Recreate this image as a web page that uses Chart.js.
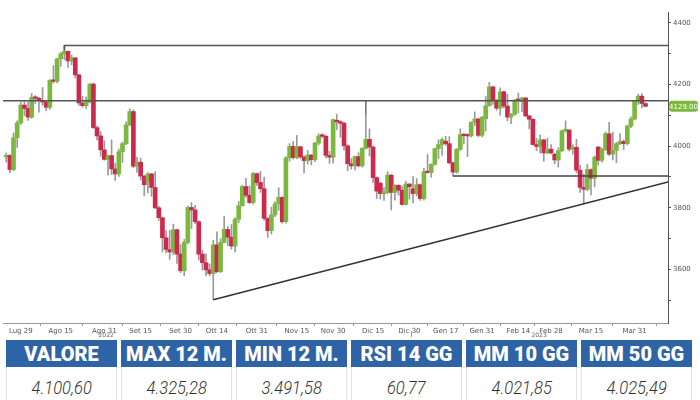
<!DOCTYPE html>
<html>
<head>
<meta charset="utf-8">
<script src="https://cdn.jsdelivr.net/npm/chart.js@4.4.0/dist/chart.umd.min.js"></script>
<style>
html, body { margin:0; padding:0; background:#fff; }
#wrap { width:700px; height:338px; }
#tab { display:flex; margin:2px 0 0 6px; }
.col { width:111px; margin-right:4px; }
.hd { background:#2e63a6; color:#fff; font:900 20px Roboto, sans-serif; height:27px; line-height:28px; text-align:center; white-space:nowrap; }
.vl { box-sizing:border-box; height:33px; padding-top:9px; text-align:center; color:#333; border-left:1px solid #e2e2e2; border-right:1px solid #e2e2e2; white-space:nowrap; }
.vl span { display:inline-block; font:italic 300 19px Roboto, sans-serif; transform:scaleX(0.87); }
</style>
</head>
<body>
<div id="wrap"><canvas id="chart_main" width="700" height="338"></canvas></div>
<div id="tab"></div>
<script>
"use strict";

// giorni di borsa, indice 0 = Lug 29 (prima candela = Lug 25)
const startIdx = -4;
const openV  = [3965,3970,3924,4027,4075,4133,4122,4094,4158,4155,4148,4143,4126,4213,4210,4283,4299,4307,4276,4286,4231,4140,4131,4143,4201,4060,4033,3988,3957,3969,3926,3910,3982,4008,4069,4112,3935,3948,3903,3883,3910,3866,3800,3768,3703,3665,3657,3729,3650,3596,3688,3801,3793,3755,3650,3622,3599,3587,3680,3593,3688,3730,3705,3676,3763,3807,3869,3841,3817,3911,3882,3862,3766,3726,3777,3813,3834,3755,3962,3999,3963,3998,3965,3953,3971,3956,4010,4033,4032,3970,3964,4082,4079,4074,4001,3943,3936,3966,3936,3993,4022,3997,3898,3880,3846,3850,3906,3850,3873,3857,3811,3877,3862,3846,3875,3830,3917,3914,3941,3992,4005,4016,4008,3946,3916,3990,4037,4034,4033,4077,4088,4035,4089,4131,4192,4149,4123,4176,4130,4094,4103,4149,4144,4156,4098,4087,4005,3999,4020,3978,3990,3974,3955,3985,4050,4052,3990,3996,3922,3866,3860,3924,3896,3997,3954,3989,4040,3974,3986,4008,4015,4008,4065,4088,4146,4162,4138];
const highV  = [3978,3972,4043,4082,4143,4148,4143,4171,4164,4158,4190,4146,4216,4261,4285,4304,4326,4309,4295,4288,4233,4162,4159,4203,4205,4065,4047,4017,3972,4020,3945,3990,4013,4079,4121,4118,3964,3961,3905,3914,3912,3917,3805,3770,3726,3727,3747,3731,3681,3698,3806,3817,3808,3758,3662,3651,3618,3695,3722,3700,3773,3739,3746,3768,3821,3873,3896,3870,3915,3913,3918,3900,3768,3802,3820,3865,3836,3966,4008,4015,4035,4000,3968,3986,3973,4012,4040,4040,4034,3983,4088,4103,4083,4078,4004,3960,3968,3979,3995,4103,4056,4000,3900,3883,3866,3917,3908,3875,3875,3870,3886,3879,3901,3895,3877,3928,3973,3943,3994,4020,4026,4032,4031,3948,3992,4056,4041,4040,4079,4111,4090,4096,4161,4207,4195,4151,4189,4178,4168,4106,4151,4172,4158,4158,4100,4089,4025,4036,4022,4026,4005,3976,3995,4052,4082,4054,4004,4022,3938,3909,3941,3926,3969,3999,3994,4046,4077,4045,4012,4041,4020,4068,4095,4148,4168,4170,4141];
const lowV   = [3948,3914,3920,3996,4070,4099,4083,4090,4138,4110,4132,4115,4120,4204,4205,4259,4280,4255,4264,4221,4132,4126,4122,4140,4057,4019,3967,3954,3906,3908,3889,3902,3947,4005,4066,3930,3915,3890,3839,3848,3837,3797,3759,3657,3655,3633,3648,3620,3590,3580,3684,3733,3749,3631,3598,3579,3580,3502,3590,3590,3686,3677,3666,3657,3752,3805,3834,3814,3812,3873,3850,3760,3704,3715,3771,3792,3750,3750,3951,3958,3959,3960,3913,3942,3939,3950,4004,4027,3962,3944,3945,4053,4029,3987,3920,3925,3923,3933,3932,3990,3968,3882,3830,3828,3824,3846,3793,3825,3841,3809,3809,3828,3816,3838,3824,3825,3912,3899,3938,3960,3970,4002,3942,3903,3912,3985,4007,3966,4030,4066,4030,4030,4049,4129,4135,4116,4100,4124,4082,4073,4100,4107,4112,4095,4056,4003,3985,3977,3951,3975,3975,3943,3932,3982,4045,3984,3974,3913,3850,3813,3855,3842,3868,3938,3948,3985,3970,3955,3946,4005,3989,4004,4060,4085,4135,4124,4127];
const closeV = [3970,3924,4027,4075,4133,4122,4094,4158,4155,4148,4143,4126,4213,4210,4283,4299,4307,4276,4286,4231,4140,4131,4143,4201,4060,4033,3988,3957,3969,3926,3910,3982,4008,4069,4112,3935,3948,3903,3875,3910,3866,3800,3768,3703,3665,3657,3729,3650,3596,3688,3801,3793,3755,3650,3622,3599,3587,3680,3593,3688,3730,3705,3676,3763,3807,3869,3841,3817,3911,3882,3862,3766,3726,3777,3813,3834,3755,3962,3999,3963,3998,3965,3953,3971,3956,4010,4033,4032,3970,3964,4086,4079,4074,4001,3943,3936,3966,3936,3993,4022,3997,3898,3854,3846,3850,3906,3850,3873,3857,3811,3877,3868,3846,3875,3830,3917,3914,3941,3992,4005,4021,4008,3946,3916,3990,4037,4034,4033,4077,4088,4035,4094,4131,4192,4149,4123,4176,4130,4094,4103,4149,4148,4156,4098,4087,4005,3999,4020,3978,3990,3978,3955,3985,4050,4052,3990,3996,3922,3866,3860,3924,3896,3964,3954,3989,4040,3974,3986,4008,4015,4008,4065,4088,4146,4162,4138,4129];

// etichette asse X
const tickIdx  = [0, 11, 23, 33, 44, 54, 65, 76, 86, 97, 107, 117, 127, 137, 146, 157, 169];
const tickText = ['Lug 29','Ago 15','Ago 31','Set 15','Set 30','Ott 14','Ott 31','Nov 15','Nov 30','Dic 15','Dic 30','Gen 17','Gen 31','Feb 14','Feb 28','Mar 15','Mar 31'];
const yearIdx  = [23.5, 142.7];
const yearText = ['2022', '2023'];
const yTicks   = [3500, 3600, 3700, 3800, 3900, 4000, 4100, 4200, 4300, 4400];
const lastPrice = 4129;

// linee tracciate
const lineTop     = [[12, 4310], [12, 4326], [178.2, 4326]];
const lineMid     = [[-4.9, 4147], [178.2, 4147]];
const lineDic     = [[95, 4147], [95, 4103]];
const lineSupport = [[119, 3903], [178.2, 3903]];
const lineTrend   = [[53, 3502], [178.2, 3884]];

// tabella
const tabHead = ['VALORE', 'MAX 12 M.', 'MIN 12 M.', 'RSI 14 GG', 'MM 10 GG', 'MM 50 GG'];
const tabVal  = ['4.100,60', '4.325,28', '3.491,58', '60,77', '4.021,85', '4.025,49'];

const GREEN = '#7cb83e', RED = '#cc2a4c', WICK = '#9a9a9a';

const xs     = closeV.map((_, k) => startIdx + k);
const bodies = xs.map((x, k) => ({ x: x, y: [openV[k], closeV[k]] }));
const wicks  = xs.map((x, k) => ({ x: x, y: [lowV[k], highV[k]] }));
const cols   = closeV.map((c, k) => c >= openV[k] ? GREEN : RED);
const pts    = arr => arr.map(p => ({ x: p[0], y: p[1] }));

function lineSet(arr, color) {
  return { type: 'line', data: pts(arr), borderColor: color, borderWidth: 1.6,
           pointRadius: 0, fill: false, tension: 0, order: 0 };
}

const extras = {
  id: 'extras',
  afterDraw(chart) {
    const c = chart.ctx, xs_ = chart.scales.x, ys_ = chart.scales.y;
    c.save();
    c.fillStyle = '#666';
    c.font = '6px "DejaVu Sans"';
    c.textAlign = 'center';
    c.textBaseline = 'top';
    yearIdx.forEach((v, k) => c.fillText(yearText[k], xs_.getPixelForValue(v), 332));
    // separatore anno
    const sx = Math.round(xs_.getPixelForValue(107.5)) + 0.5;
    c.strokeStyle = '#999'; c.lineWidth = 1;
    c.beginPath(); c.moveTo(sx, 331); c.lineTo(sx, 337); c.stroke();
    // etichetta prezzo
    const py = ys_.getPixelForValue(lastPrice);
    const bx = chart.chartArea.right + 1, bw = 29, bh = 11;
    c.fillStyle = GREEN;
    c.beginPath();
    c.roundRect(bx, py - bh / 2, bw, bh, 3);
    c.fill();
    c.fillStyle = '#fff';
    c.font = '7px "DejaVu Sans"';
    c.textBaseline = 'middle';
    c.fillText(lastPrice.toFixed(2), bx + bw / 2, py + 0.5);
    c.restore();
  }
};

var ctx = document.getElementById('chart_main');
let chart = new Chart(ctx, {
  type: 'bar',
  data: {
    datasets: [
      { data: bodies, backgroundColor: cols, barThickness: 4, minBarLength: 1.5,
        grouped: false, order: 1 },
      { data: wicks, backgroundColor: WICK, barThickness: 1, grouped: false, order: 2 },
      lineSet(lineTop, '#555'),
      lineSet(lineMid, '#555'),
      lineSet(lineDic, '#777'),
      lineSet(lineSupport, '#444'),
      lineSet(lineTrend, '#333'),
    ],
  },
  options: {
    responsive: false,
    animation: false,
    layout: { padding: { left: 3, top: 12, right: 0, bottom: 0 } },
    plugins: { legend: { display: false }, tooltip: { enabled: false } },
    scales: {
      x: {
        type: 'linear', min: -4.9, max: 178.2, offset: false,
        afterBuildTicks: s => { s.ticks = tickIdx.map(v => ({ value: v })); },
        afterFit: s => { s.height = 15; },
        ticks: { autoSkip: false, maxRotation: 0, padding: 1, color: '#555',
                 font: { size: 7, family: 'DejaVu Sans' },
                 callback: v => tickText[tickIdx.indexOf(v)] },
        grid: { drawOnChartArea: false, tickLength: 3, color: '#999' },
        border: { color: '#999' },
      },
      y: {
        position: 'right', min: 3426.7, max: 4434.7,
        afterBuildTicks: s => { s.ticks = yTicks.map(v => ({ value: v })); },
        afterFit: s => { s.width = 32; },
        ticks: { padding: 2, color: '#555', font: { size: 7, family: 'DejaVu Sans' },
                 callback: v => v % 200 === 0 ? String(v) : '' },
        grid: { drawOnChartArea: false, tickLength: 3, color: '#555' },
        border: { color: '#555' },
      },
    },
  },
  plugins: [extras],
});

// tabella sotto il grafico
const tab = document.getElementById('tab');
tabHead.forEach((h, k) => {
  const col = document.createElement('div');
  col.className = 'col';
  col.innerHTML = '<div class="hd">' + h + '</div><div class="vl"><span>' + tabVal[k] + '</span></div>';
  tab.appendChild(col);
});
</script>
</body>
</html>
